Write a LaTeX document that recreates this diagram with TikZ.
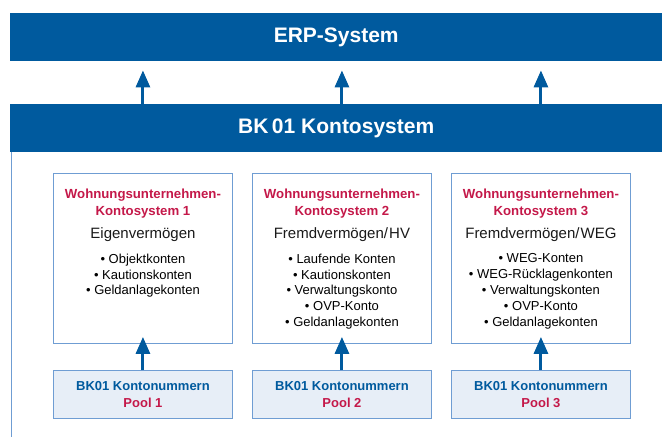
\documentclass[tikz,border=0pt]{standalone}
\usepackage{fontspec}
\setmainfont{Liberation Sans}
\usetikzlibrary{arrows.meta, positioning, calc}
\definecolor{bkblue}{HTML}{005A9E}
\definecolor{wured}{HTML}{C41849}
\definecolor{frameblue}{HTML}{6F9DD3}
\definecolor{poolfill}{HTML}{E7EEF7}

\tikzset{
  bar/.style={fill=bkblue, text=white, font=\fontsize{21}{24}\selectfont\bfseries,
    minimum height=48pt, minimum width=652pt, inner sep=0pt, anchor=north west},
  kontobox/.style={draw=frameblue, line width=0.9pt, minimum width=179pt,
    minimum height=170pt, inner sep=0pt, anchor=north west},
  poolbox/.style={kontobox, fill=poolfill, minimum height=48pt, align=center,
    font=\fontsize{13}{16.5}\selectfont\bfseries, text=bkblue},
  titel/.style={align=center, inner sep=0pt, text=wured, font=\fontsize{13.2}{17}\selectfont\bfseries},
  kategorie/.style={inner sep=0pt, text=black!90, font=\fontsize{15}{17}\selectfont},
  liste/.style={align=center, inner sep=0pt, font=\fontsize{13}{15.8}\selectfont},
  uparrow/.style={draw=bkblue, line width=3pt, -{Triangle[length=17pt, width=14pt]}}
}

\begin{document}
\begin{tikzpicture}[x=1pt, y=-1pt]
  \useasboundingbox (0,0) rectangle (662,437);
  % Systemleisten
  \node[bar] (erp) at (10,13) {ERP-System};
  \node[bar] (bk) at (10,104) {BK\,01 Kontosystem};
  \coordinate (rand) at (11.5,437);
  \draw[frameblue, line width=0.9pt] (bk.south west -| rand) -- (rand);

  % Kontosysteme, Pools und Pfeile
  \foreach \i/\x in {1/53, 2/252, 3/451} {
    \node[kontobox] (ks\i) at (\x,173) {};
    \node[titel, below=16pt of ks\i.north] (titel\i) {Wohnungsunternehmen-\\Kontosystem \i};
    \node[poolbox] (pool\i) at (\x,370) {BK01 Kontonummern\\\textcolor{wured}{Pool \i}};
    \draw[uparrow, shorten >=-7pt] (pool\i) -- (ks\i);
    \draw[uparrow, shorten >=9pt] (ks\i.north |- bk.north) -- (ks\i.north |- erp.south);
  }

  \node[kategorie, below=8.5pt of titel1] (kat1) {Eigenvermögen};
  \node[kategorie, below=8.5pt of titel2] (kat2) {Fremdvermögen/\kern1.2pt HV};
  \node[kategorie, below=8.5pt of titel3] (kat3) {Fremdvermögen/\kern1.2pt WEG};

  \node[liste, below=12pt of kat1] (liste1) {\textbullet\ Objektkonten\\\textbullet\ Kautionskonten\\\textbullet\ Geldanlagekonten};
  \node[liste, below=12pt of kat2] (liste2) {\textbullet\ Laufende Konten\\\textbullet\ Kautionskonten\\\textbullet\ Verwaltungskonto\\\textbullet\ OVP-Konto\\\textbullet\ Geldanlagekonten};
  \node[liste, below=12pt of kat3] (liste3) {\textbullet\ WEG-Konten\\\textbullet\ WEG-Rücklagenkonten\\\textbullet\ Verwaltungskonten\\\textbullet\ OVP-Konto\\\textbullet\ Geldanlagekonten};
\end{tikzpicture}
\end{document}
